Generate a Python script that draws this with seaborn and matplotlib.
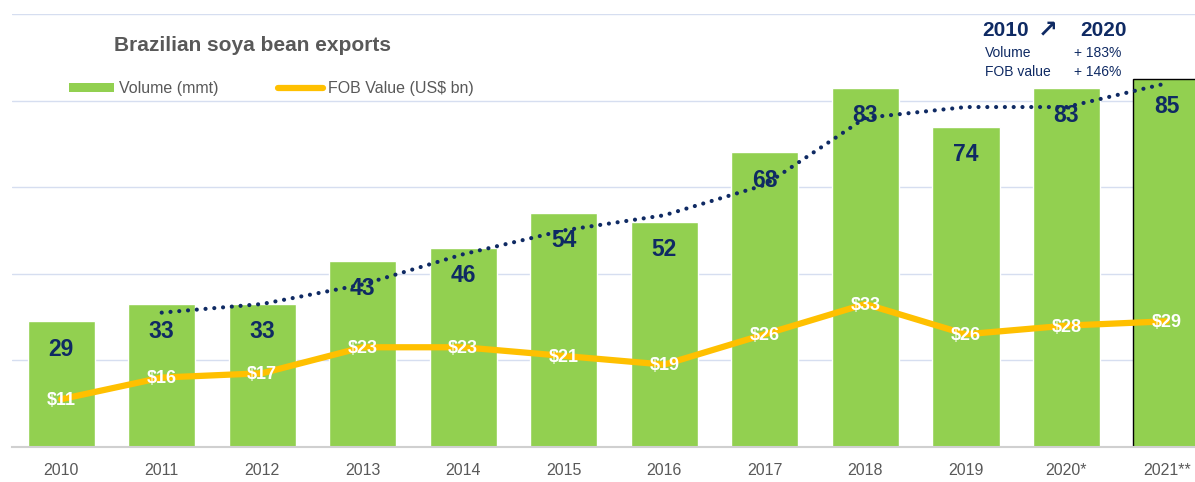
import numpy as np
import matplotlib
matplotlib.use("Agg")
import matplotlib.pyplot as plt
import seaborn as sns
from matplotlib.patches import Patch
from matplotlib.lines import Line2D

years = ["2010", "2011", "2012", "2013", "2014", "2015", "2016", "2017",
         "2018", "2019", "2020*", "2021**"]
volume = [29, 33, 33, 43, 46, 54, 52, 68, 83, 74, 83, 85]
fob_value = [11, 16, 17, 23, 23, 21, 19, 26, 33, 26, 28, 29]
# dotted trend (starts at 2011)
trend_years = ["2011", "2012", "2013", "2014", "2015", "2016", "2017",
               "2018", "2019", "2020*", "2021**"]
trend = [31, 33, 37.5, 44.5, 50, 53.5, 60.5, 76, 78.5, 78.5, 84]

GREEN = "#92D050"
YELLOW = "#FFC000"
NAVY = "#0F2A63"
GREY = "#595959"

sns.set_style("white")
plt.rcParams["font.family"] = ["Liberation Sans", "DejaVu Sans"]

fig = plt.figure(figsize=(11.95, 4.82), dpi=100)
ax = fig.add_axes([0.010, 0.073, 0.99, 0.898])

sns.barplot(x=years, y=volume, color=GREEN, saturation=1, width=0.67, ax=ax, zorder=2)
# last bar has a thin black outline
last = ax.patches[-1]
last.set_edgecolor("black")
last.set_linewidth(1)

xpos = np.arange(len(years))
sns.lineplot(x=xpos, y=fob_value, color=YELLOW, linewidth=4.5, ax=ax, zorder=3)
tpos = np.array([years.index(y) for y in trend_years])
ax.plot(tpos, trend, color=NAVY, linestyle=(0, (0.01, 2.1)), linewidth=3,
        dash_capstyle="round", zorder=5)

for i, v in enumerate(volume):
    ax.annotate(str(v), (i, v), xytext=(0, -20), textcoords="offset points",
                ha="center", va="center", fontsize=16.5, fontweight="bold",
                color=NAVY, zorder=4)
for i, v in enumerate(fob_value):
    ax.annotate(f"${v}", (i, v), xytext=(0, -1), textcoords="offset points",
                ha="center", va="center", fontsize=13, fontweight="bold",
                color="white", zorder=6)

ax.set_yticks([20, 40, 60, 80, 100])
ax.yaxis.grid(True, color="#D6DEF0", linewidth=1)
ax.set_axisbelow(True)
ax.tick_params(axis="y", left=False, labelleft=False)
ax.tick_params(axis="x", length=0, labelsize=11.5, labelcolor=GREY, pad=12)
# small tick marks between categories on the baseline
ax.set_xticks(np.arange(len(years) + 1) - 0.5, minor=True)
ax.tick_params(axis="x", which="minor", length=5, color="#D0D0D0", direction="out")
ax.set_ylim(0, 100)
ax.set_xlim(-0.49, 11.28)
for side in ["top", "right", "left"]:
    ax.spines[side].set_visible(False)
ax.spines["bottom"].set_color("#D0D0D0")
ax.spines["bottom"].set_linewidth(1.5)
ax.set_xlabel("")
ax.set_ylabel("")

fig.text(0.095, 0.905, "Brazilian soya bean exports", fontsize=15,
         fontweight="bold", color=GREY, ha="left", va="center")

handles = [Patch(facecolor=GREEN, edgecolor="none"),
           Line2D([], [], color=YELLOW, linewidth=4.5, solid_capstyle="round")]
leg = fig.legend(handles, ["Volume (mmt)", "FOB Value (US$ bn)"], ncol=2,
                 loc="center left", bbox_to_anchor=(0.046, 0.816), frameon=False,
                 fontsize=11.5, handlelength=2.8, handleheight=0.45,
                 handletextpad=0.3, columnspacing=3.75)
for t in leg.get_texts():
    t.set_color(GREY)

fig.text(0.822, 0.937, "2010", fontsize=15, fontweight="bold", color=NAVY,
         ha="left", va="center")
fig.text(0.877, 0.937, "\u2197", fontsize=17, fontweight="bold", color=NAVY,
         ha="center", va="center", family=["DejaVu Sans"])
fig.text(0.943, 0.937, "2020", fontsize=15, fontweight="bold", color=NAVY,
         ha="right", va="center")
fig.text(0.824, 0.890, "Volume", fontsize=10, color=NAVY, ha="left", va="center")
fig.text(0.938, 0.890, "+ 183%", fontsize=10, color=NAVY, ha="right", va="center")
fig.text(0.824, 0.851, "FOB value", fontsize=10, color=NAVY, ha="left", va="center")
fig.text(0.938, 0.851, "+ 146%", fontsize=10, color=NAVY, ha="right", va="center")

fig.savefig("out.png", dpi=100, facecolor="white")
